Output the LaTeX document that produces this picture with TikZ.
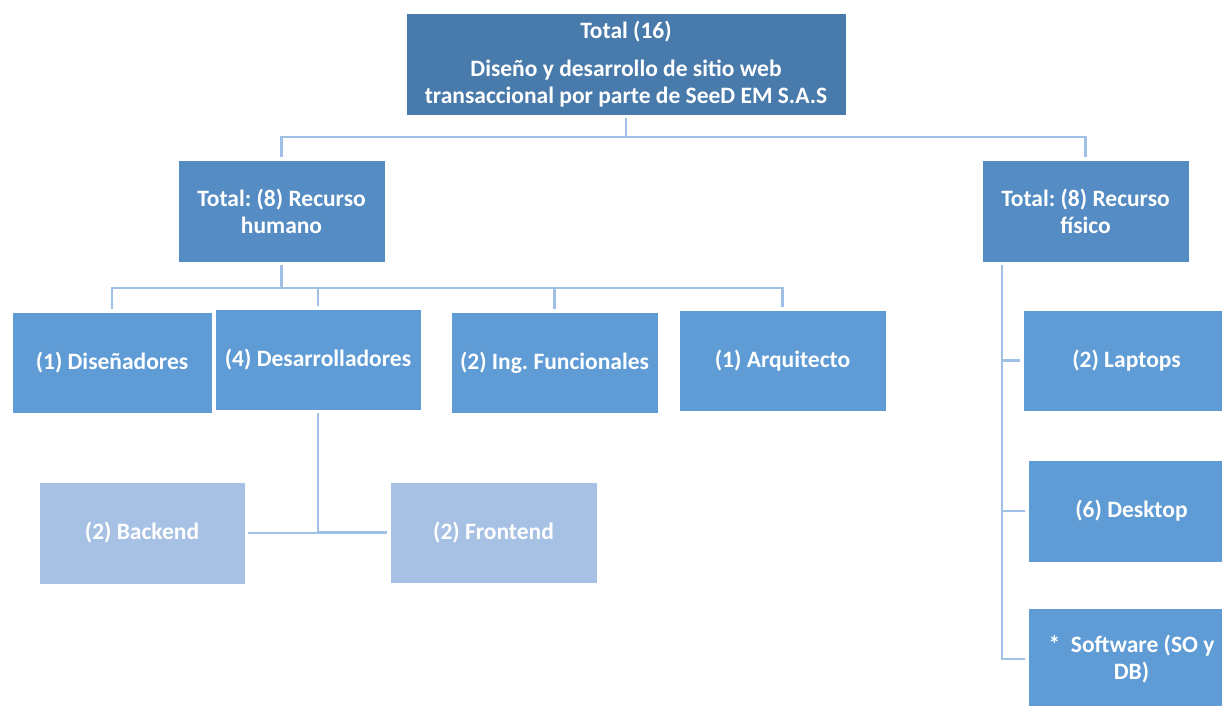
\documentclass[tikz,border=0pt]{standalone}
\usepackage{fontspec}
\setmainfont{Carlito}
\usetikzlibrary{positioning}
\frenchspacing

\definecolor{topblue}{RGB}{72,122,171}
\definecolor{midblue}{RGB}{84,140,195}
\definecolor{leafblue}{RGB}{95,155,213}
\definecolor{subblue}{RGB}{166,193,227}
\definecolor{lineblue}{RGB}{160,193,229}

\begin{document}
\begin{tikzpicture}[x=1pt, y=-1pt,
    box/.style = {draw=white, line width=0.8pt, text=white, anchor=north west,
        font=\bfseries\fontsize{23.5}{27}\selectfont, align=center,
        inner sep=2pt, outer sep=0pt, minimum width=207pt, minimum height=102pt},
    topbox/.style = {box, fill=topblue},
    midbox/.style = {box, fill=midblue},
    leafbox/.style = {box, fill=leafblue},
    subbox/.style = {box, fill=subblue},
    link/.style = {draw=lineblue, line width=2.8pt, shorten <=3pt, shorten >=3pt}]

    \useasboundingbox (0,0) rectangle (1222,705);
    \clip (0,0) rectangle (1222,705);

    % Nodes
    \node[topbox, minimum width=440pt] (total) at (406,13) {Total (16)\\[11pt]Diseño y desarrollo de sitio web\\transaccional por parte de SeeD EM S.A.S};
    \node[midbox] (humano) at (178,160) {Total: (8) Recurso\\humano};
    \node[midbox] (fisico) at (982,160) {Total: (8) Recurso\\físico};

    \node[leafbox, minimum width=200pt, minimum height=101pt] (disen) at (12,312) {(1) Diseñadores};
    \node[leafbox, minimum width=206pt, minimum height=101pt] (desar) at (215,309) {(4) Desarrolladores};
    \node[leafbox, minimum height=101pt] (ingfun) at (451,312) {(2) Ing. Funcionales};
    \node[leafbox, minimum height=101pt] (arqui) at (679,310) {(1) Arquitecto};

    \node[subbox, minimum width=206pt] (back) at (39,482) {(2) Backend};
    \node[subbox, minimum height=101pt] (front) at (390,482) {(2) Frontend};

    \node[leafbox, minimum height=101pt] (laptop) at (1023,310) {(2) Laptops};
    \node[leafbox] (desk) at (1028,460) {(6) Desktop};
    \node[leafbox] (soft) at (1028,608) {*\ \ Software (SO y\\DB)};

    % Edges
    \draw[link] (total.south) -- ++(0,22) -| (humano.north);
    \draw[link] (total.south) -- ++(0,22) -| (fisico.north);

    \draw[link] (humano.south) -- ++(0,26) -| (disen.north);
    \draw[link] (humano.south) -- ++(0,26) -| (desar.north);
    \draw[link] (humano.south) -- ++(0,26) -| (ingfun.north);
    \draw[link] (humano.south) -- ++(0,26) -| (arqui.north);

    \draw[link] (desar.south) |- (back.east);
    \draw[link] (desar.south) |- (front.west);

    \draw[link] ([xshift=20pt]fisico.south west) |- (laptop.west);
    \draw[link] ([xshift=20pt]fisico.south west) |- (desk.west);
    \draw[link] ([xshift=20pt]fisico.south west) |- (soft.west);

\end{tikzpicture}
\end{document}
